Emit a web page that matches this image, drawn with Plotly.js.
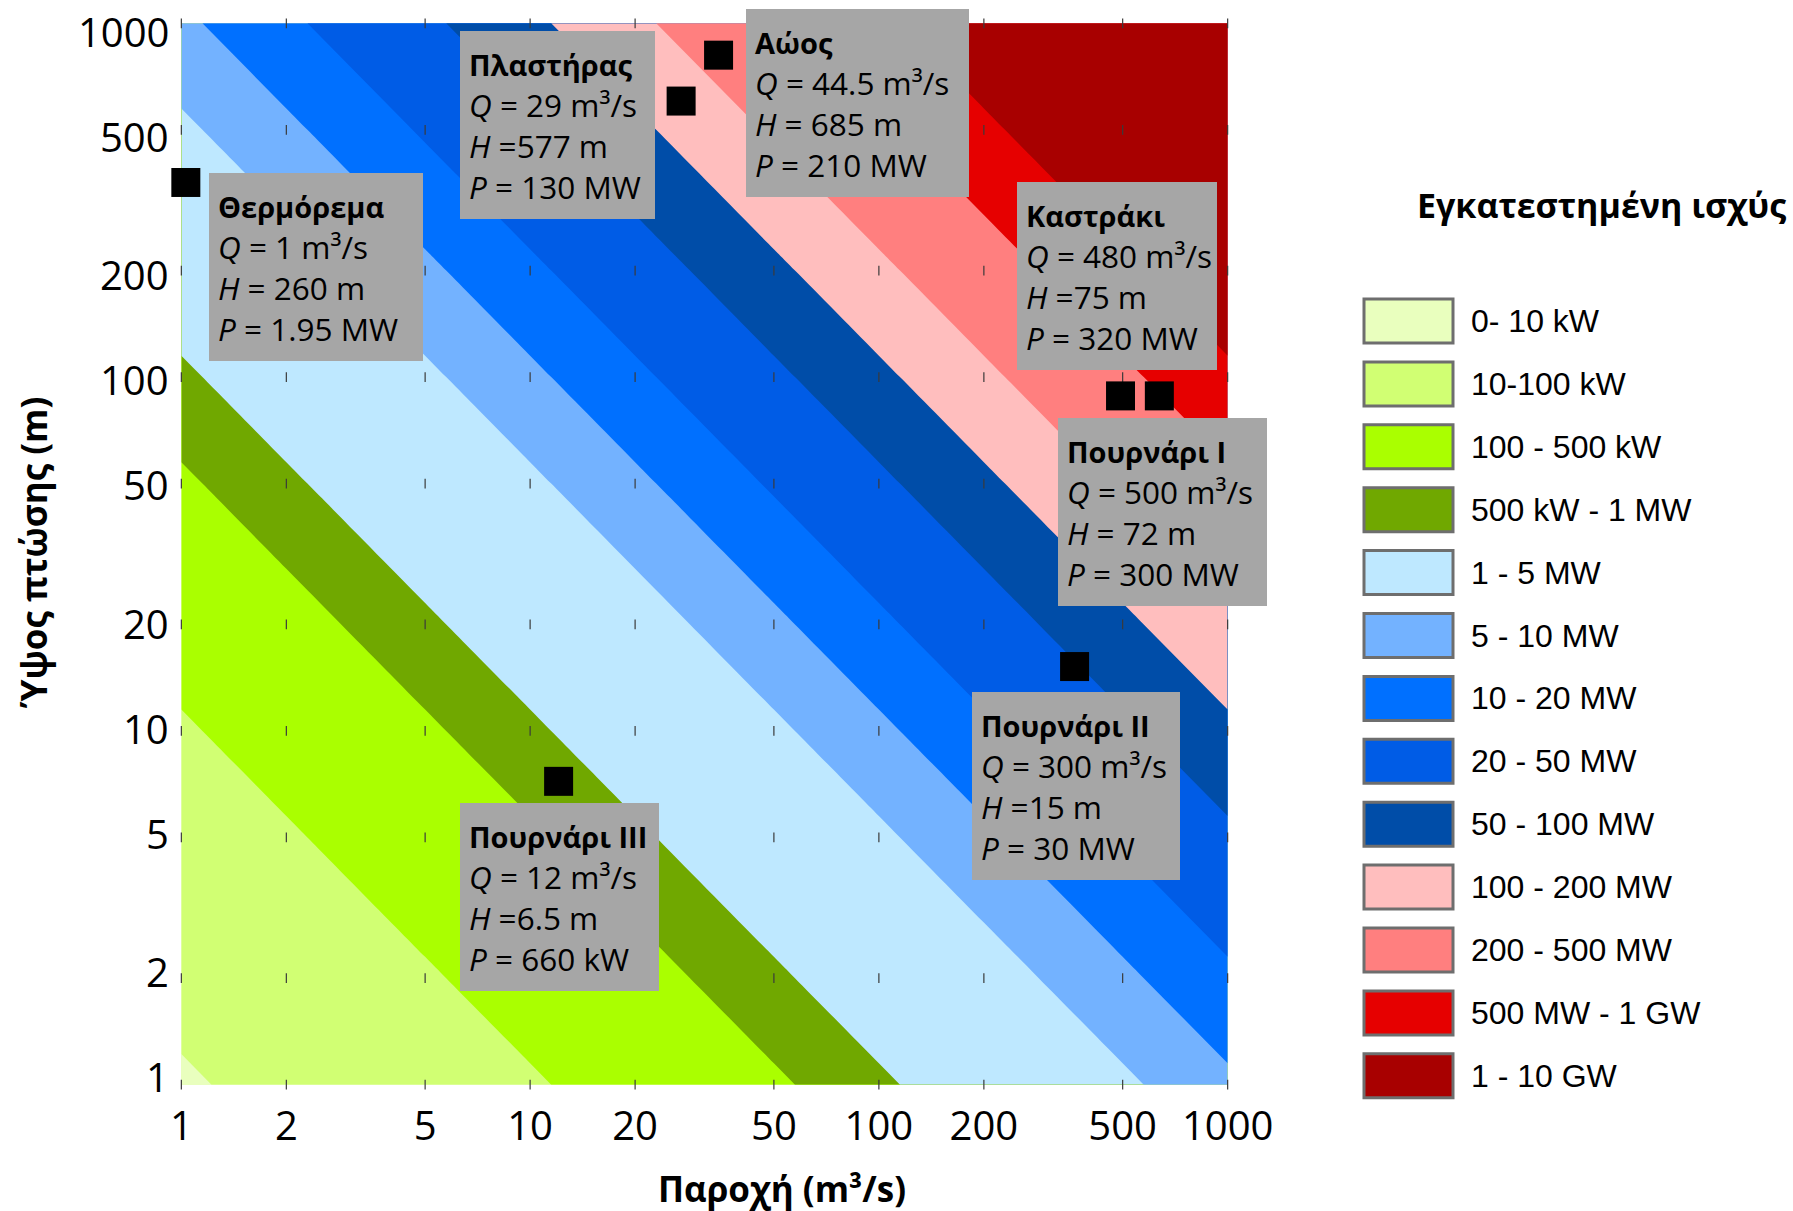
<!DOCTYPE html>
<html>
<head>
<meta charset="utf-8">
<script src="https://cdn.plot.ly/plotly-3.0.1.min.js"></script>
<style>
html,body{margin:0;padding:0;background:#ffffff;}
#chart{width:1793px;height:1211px;}
</style>
</head>
<body>
<div id="chart"></div>
<script>
// ---------------- DATA ----------------
const flowTicks = [1, 2, 5, 10, 20, 50, 100, 200, 500, 1000];
const headTicks = [1, 2, 5, 10, 20, 50, 100, 200, 500, 1000];
const tickLabels = ['1', '2', '5', '10', '20', '50', '100', '200', '500', '1000'];

// Installed power (kW) read at the grid nodes: rows = head (m), columns = flow (m3/s)
const powerKW = [
  [8.0,   17.4,  43.5,   87,     174,    435,     870,     1740,    4350,    8700],
  [17.4,  34.8,  87,     174,    348,    870,     1740,    3480,    8700,    17400],
  [43.5,  87,    217.5,  435,    870,    2175,    4350,    8700,    21750,   43500],
  [87,    174,   435,    870,    1740,   4350,    8700,    17400,   43500,   87000],
  [174,   348,   870,    1740,   3480,   8700,    17400,   34800,   87000,   174000],
  [435,   870,   2175,   4350,   8700,   21750,   43500,   87000,   217500,  435000],
  [870,   1740,  4350,   8700,   17400,  43500,   87000,   174000,  435000,  870000],
  [1740,  3480,  8700,   17400,  34800,  87000,   174000,  348000,  870000,  1740000],
  [4350,  8700,  21750,  43500,  87000,  217500,  435000,  870000,  2175000, 4350000],
  [8700,  17400, 43500,  87000,  174000, 435000,  870000,  1740000, 4350000, 8700000]
];

// class limits (kW)
const levelKW = [10, 100, 500, 1000, 5000, 10000, 20000, 50000, 100000, 200000, 500000, 1000000];
const bandLabels = ['0- 10 kW', '10-100 kW', '100 - 500 kW', '500 kW - 1 MW', '1 - 5 MW', '5 - 10 MW',
  '10 - 20 MW', '20 - 50 MW', '50 - 100 MW', '100 - 200 MW', '200 - 500 MW', '500 MW - 1 GW', '1 - 10 GW'];
const bandColors = ['#e9ffbe', '#d1ff73', '#aaff00', '#70a800', '#bee8ff', '#73b2ff',
  '#0070ff', '#005ce6', '#004da8', '#ffbebe', '#ff7f7f', '#e60000', '#a80000'];

// plants
const plantNames = ['Θερμόρεμα', 'Πλαστήρας', 'Αώος', 'Καστράκι', 'Πουρνάρι I', 'Πουρνάρι II', 'Πουρνάρι III'];
const plantQText = ['= 1', '= 29', '= 44.5', '= 480', '= 500', '= 300', '= 12'];
const plantHText = ['= 260 m', '=577 m', '= 685 m', '=75 m', '= 72 m', '=15 m', '=6.5 m'];
const plantPText = ['= 1.95 MW', '= 130 MW', '= 210 MW', '= 320 MW', '= 300 MW', '= 30 MW', '= 660 kW'];
// marker positions as drawn in the chart
const markerQ = [1.03, 27.1, 34.7, 493, 637, 364, 12.07];
const markerH = [355, 603, 813, 88.5, 88.5, 15.2, 7.2];

// ---------------- LAYOUT HELPERS ----------------
const FIG_W = 1793, FIG_H = 1211;
const M = {l: 181, r: 565, t: 23, b: 126};
const PW = FIG_W - M.l - M.r, PH = FIG_H - M.t - M.b;
const px2x = px => (px - M.l) / PW;
const py2y = py => (FIG_H - M.b - py) / PH;
const AX_RANGE = [-0.001, 3.001];

// text box geometry (pixels): left, top, width, height
const boxGeom = [
  [209, 173, 214, 188],
  [460, 31, 195, 188],
  [746, 9, 223, 188],
  [1017, 182, 200, 188],
  [1058, 418, 209, 188],
  [972, 692, 208, 188],
  [460, 803, 199, 188]
];

const zLog = powerKW.map(row => row.map(v => Math.log10(v)));

const traces = [];
// each class: fill the area at or above its lower limit (Plotly shades the area outside the constraint)
levelKW.forEach((lv, i) => {
  traces.push({
    type: 'contour', x: flowTicks, y: headTicks, z: zLog,
    contours: {type: 'constraint', operation: '<', value: Math.log10(lv)},
    fillcolor: bandColors[i + 1], line: {width: 0, color: bandColors[i + 1]},
    showscale: false, showlegend: false, hoverinfo: 'skip'
  });
});

// small grid marks at tick intersections
const gx = [], gy = [];
flowTicks.forEach(q => headTicks.forEach(h => { gx.push(q); gy.push(h); }));
traces.push({
  type: 'scatter', mode: 'markers', x: gx, y: gy, cliponaxis: false,
  marker: {symbol: 'line-ns', size: 7, line: {width: 1.2, color: '#3a3a3a'}},
  showlegend: false, hoverinfo: 'skip'
});

// plant markers
traces.push({
  type: 'scatter', mode: 'markers', x: markerQ, y: markerH, cliponaxis: false,
  marker: {symbol: 'square', size: 29, color: '#000000', line: {width: 0}},
  showlegend: false, hoverinfo: 'skip'
});

const annotations = [];
const shapes = [];
const FONT = 'Open Sans, Noto Sans, sans-serif';
plantNames.forEach((n, i) => {
  const [l, t, w, h] = boxGeom[i];
  shapes.push({
    type: 'rect', xref: 'paper', yref: 'paper', layer: 'above',
    x0: px2x(l), x1: px2x(l + w), y0: py2y(t), y1: py2y(t + h),
    fillcolor: '#a6a6a6', line: {width: 0}
  });
  annotations.push({
    xref: 'paper', yref: 'paper', x: px2x(l + 8), y: py2y(t + h / 2 + 1),
    xanchor: 'left', yanchor: 'middle', showarrow: false, borderpad: 0,
    align: 'left',
    text: '<span style="font-size:29px"><b>' + n + '</b></span><br><i>Q</i> ' + plantQText[i] +
      ' m³/s<br><i>H</i> ' + plantHText[i] + '<br><i>P</i> ' + plantPText[i],
    font: {family: FONT, size: 31.5, color: '#000000'}
  });
});

// y tick labels (drawn slightly drawn-in toward the middle, as in the original)
const tickFont = {family: FONT, size: 40, color: '#000000'};
headTicks.forEach((v, i) => {
  const frac = (Math.log10(v) - AX_RANGE[0]) / (AX_RANGE[1] - AX_RANGE[0]);
  annotations.push({
    xref: 'paper', yref: 'paper', x: px2x(170), y: 0.5 + 0.985 * (frac - 0.5),
    xanchor: 'right', yanchor: 'middle', showarrow: false, borderpad: 0,
    text: tickLabels[i], font: tickFont
  });
});

// legend
const LEG_TOP = 299, LEG_STEP = 62.9;
bandLabels.forEach((lab, i) => {
  const top = LEG_TOP + i * LEG_STEP;
  shapes.push({
    type: 'rect', xref: 'paper', yref: 'paper',
    x0: px2x(1364), x1: px2x(1453), y0: py2y(top), y1: py2y(top + 44),
    fillcolor: bandColors[i], line: {color: '#6e6e6e', width: 3}
  });
  annotations.push({
    xref: 'paper', yref: 'paper', x: px2x(1469), y: py2y(top + 22),
    xanchor: 'left', yanchor: 'middle', showarrow: false,
    text: lab, font: {family: 'Liberation Sans, Arial, sans-serif', size: 32, color: '#000000'}
  });
});
annotations.push({
  xref: 'paper', yref: 'paper', x: px2x(1601), y: py2y(205),
  xanchor: 'center', yanchor: 'middle', showarrow: false,
  text: '<b>Εγκατεστημένη ισχύς</b>',
  font: {family: FONT, size: 34, color: '#000000'}
});
// axis titles
annotations.push({
  xref: 'paper', yref: 'paper', x: px2x(782), y: py2y(1188),
  xanchor: 'center', yanchor: 'middle', showarrow: false,
  text: '<b>Παροχή (m³/s)</b>',
  font: {family: FONT, size: 35, color: '#000000'}
});
annotations.push({
  xref: 'paper', yref: 'paper', x: px2x(33), y: py2y(553),
  xanchor: 'center', yanchor: 'middle', showarrow: false, textangle: -90,
  text: '<b>Ύψος πτώσης (m)</b>',
  font: {family: FONT, size: 35, color: '#000000'}
});

const layout = {
  width: FIG_W, height: FIG_H,
  margin: M,
  paper_bgcolor: '#ffffff', plot_bgcolor: bandColors[0],
  showlegend: false,
  xaxis: {
    type: 'log', range: AX_RANGE, tickvals: flowTicks, ticktext: tickLabels,
    showgrid: false, zeroline: false, showline: false, ticks: '',
    tickfont: tickFont, ticklabelstandoff: 14, ticklabeloverflow: 'allow',
    automargin: false, fixedrange: true
  },
  yaxis: {
    type: 'log', range: AX_RANGE, tickvals: headTicks,
    showticklabels: false,
    showgrid: false, zeroline: false, showline: false, ticks: '',
    automargin: false, fixedrange: true
  },
  annotations: annotations,
  shapes: shapes
};

Plotly.newPlot('chart', traces, layout, {displayModeBar: false, staticPlot: true});
</script>
</body>
</html>
